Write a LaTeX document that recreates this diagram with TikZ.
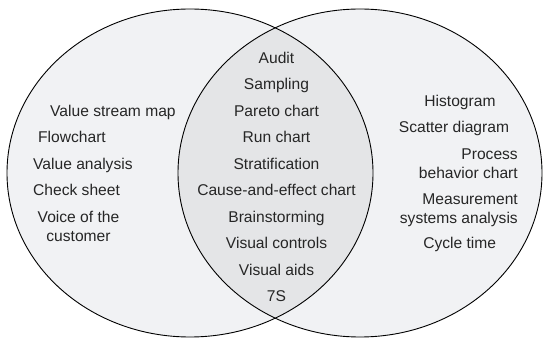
\documentclass[tikz,border=0pt]{standalone}
\usepackage{fontspec}
\setmainfont{Liberation Sans}
\definecolor{setfill}{RGB}{241,242,244}
\definecolor{overlapfill}{RGB}{228,229,231}
\tikzset{
  item/.style={font=\fontsize{15.6}{19}\selectfont, inner sep=0pt, text=black!85},
  setline/.style={draw=black, line width=0.9pt}
}
\begin{document}
\begin{tikzpicture}[x=1pt, y=-1pt]
  \useasboundingbox (0,0) rectangle (544,339);
  % the two sets
  \fill[setfill] (190,173) ellipse [x radius=183, y radius=164];
  \fill[setfill] (360,173) ellipse [x radius=182, y radius=164];
  % shared region
  \begin{scope}
    \clip (190,173) ellipse [x radius=183, y radius=164];
    \fill[overlapfill] (360,173) ellipse [x radius=182, y radius=164];
  \end{scope}
  \draw[setline] (190,173) ellipse [x radius=183, y radius=164];
  \draw[setline] (360,173) ellipse [x radius=182, y radius=164];

  % shared tools
  \node[item, anchor=base] (audit) at (276.5,63.5) {Audit};
  \node[item, anchor=base] (sampling) at (276.5,90) {Sampling};
  \node[item, anchor=base] (pareto) at (276.5,116.5) {Pareto chart};
  \node[item, anchor=base] (run) at (276.5,143) {Run chart};
  \node[item, anchor=base] (strat) at (276.5,169.5) {Stratification};
  \node[item, anchor=base] (cause) at (276.5,196) {Cause-and-effect chart};
  \node[item, anchor=base] (brain) at (276.5,222.5) {Brainstorming};
  \node[item, anchor=base] (vctrl) at (276.5,249) {Visual controls};
  \node[item, anchor=base] (vaids) at (276.5,275.5) {Visual aids};
  \node[item, anchor=base] (sevens) at (276.5,302) {7S};

  % left set
  \node[item, anchor=base west] (vsm) at (50,116.2) {Value stream map};
  \node[item, anchor=base west] (flow) at (38,142.8) {Flowchart};
  \node[item, anchor=base west] (vana) at (33,169.5) {Value analysis};
  \node[item, anchor=base west] (check) at (33,195.8) {Check sheet};
  \node[item, anchor=base] (voc1) at (78.5,222.5) {Voice of the};
  \node[item, anchor=base] (voc2) at (78.5,241.5) {customer};

  % right set
  \node[item, anchor=base] (histo) at (460,106.2) {Histogram};
  \node[item, anchor=base] (scatter) at (454,132.2) {Scatter diagram};
  \node[item, anchor=base east] (pbc1) at (518,159.5) {Process};
  \node[item, anchor=base east] (pbc2) at (518,178.5) {behavior chart};
  \node[item, anchor=base east] (msa1) at (518,204.8) {Measurement};
  \node[item, anchor=base east] (msa2) at (518,223.8) {systems analysis};
  \node[item, anchor=base] (cycle) at (459.7,248.8) {Cycle time};
\end{tikzpicture}
\end{document}
